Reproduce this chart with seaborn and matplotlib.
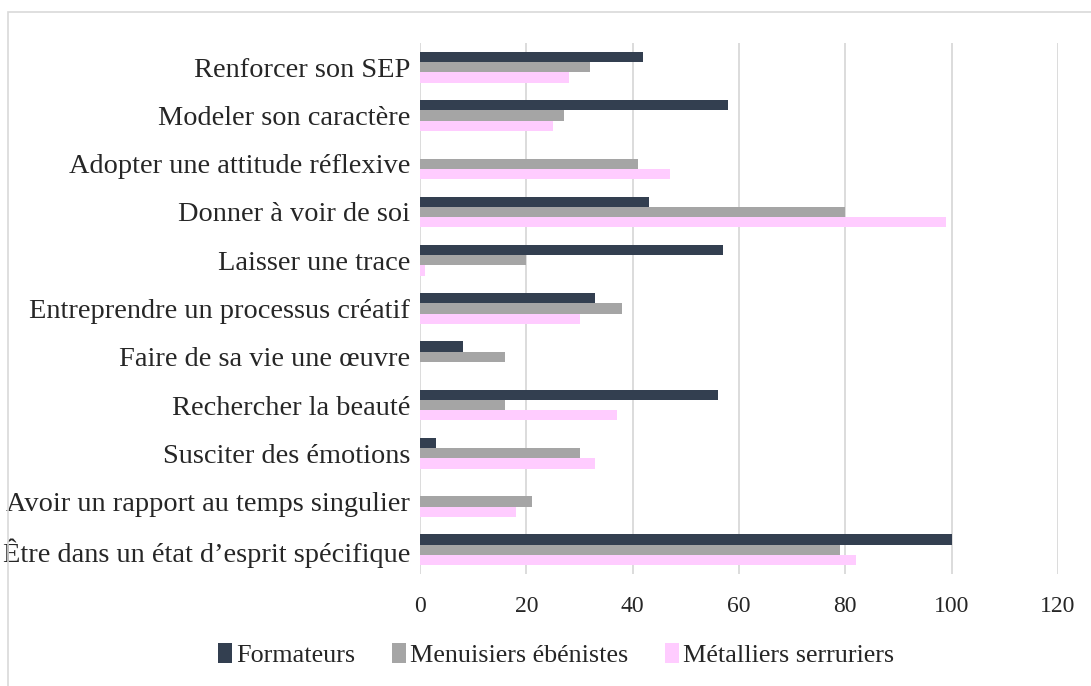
import pandas as pd
import matplotlib.pyplot as plt
import seaborn as sns
from matplotlib.patches import Rectangle, Patch

categories = ["Renforcer son SEP", "Modeler son caractère", "Adopter une attitude réflexive",
              "Donner à voir de soi", "Laisser une trace", "Entreprendre un processus créatif",
              "Faire de sa vie une œuvre", "Rechercher la beauté", "Susciter des émotions",
              "Avoir un rapport au temps singulier", "Être dans un état d’esprit spécifique"]
series = ["Formateurs", "Menuisiers ébénistes", "Métalliers serruriers"]
formateurs = [42, 58, 0, 43, 57, 33, 8, 56, 3, 0, 100]
menuisiers = [32, 27, 41, 80, 20, 38, 16, 16, 30, 21, 79]
metalliers = [28, 25, 47, 99, 1, 30, 0, 37, 33, 18, 82]
colors = ["#333F50", "#A5A5A5", "#FFCCFF"]

df = pd.DataFrame({"cat": categories * 3,
                   "serie": sum([[s] * len(categories) for s in series], []),
                   "val": formateurs + menuisiers + metalliers})

sns.set_style("white")
plt.rcParams['font.family'] = ['Liberation Serif', 'DejaVu Serif']

fig = plt.figure(figsize=(10.91, 6.86), dpi=100)
ax = fig.add_axes([420 / 1091, 1 - 574 / 686, (1058 - 420) / 1091, (574 - 43) / 686])

sns.barplot(data=df, y="cat", x="val", hue="serie", order=categories, hue_order=series,
            palette=colors, width=0.64, orient="h", ax=ax, legend=False, saturation=1,
            linewidth=0)

ax.set_xlim(0, 120)
ax.set_xticks(range(0, 121, 20))
ax.set_ylim(10.5, -0.5)
ax.grid(axis="x", color="#D9D9D9", linewidth=1.3)
ax.set_axisbelow(True)
for s in ax.spines.values():
    s.set_visible(False)
ax.set_xlabel("")
ax.set_ylabel("")
ax.tick_params(axis="x", length=0, pad=16, labelsize=17, colors="#262626")
ax.tick_params(axis="y", length=0, pad=7, labelsize=20.4, colors="#262626")

handles = [Patch(facecolor=c, edgecolor="none") for c in colors]
fig.legend(handles, series, loc="center", bbox_to_anchor=(556 / 1091, 1 - 655 / 686),
           ncol=3, frameon=False, fontsize=18.8, handlelength=0.55, handleheight=0.8,
           handletextpad=0.15, columnspacing=1.4, labelcolor="#262626")

fig.patches.append(Rectangle((8 / 1091, -0.1), 1.2, 1 - 12 / 686 + 0.1, transform=fig.transFigure,
                             fill=False, edgecolor="#D9D9D9", linewidth=1.2))

fig.savefig("out.png", dpi=100)
